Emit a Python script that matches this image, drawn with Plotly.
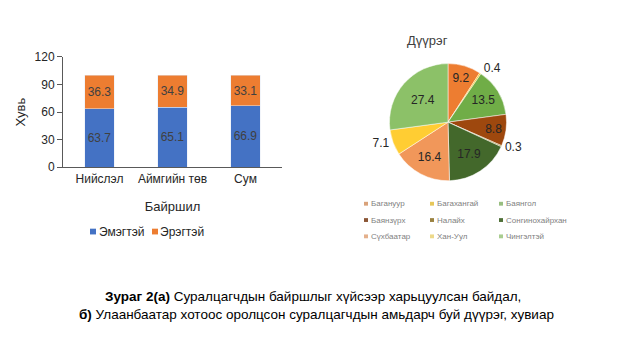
import plotly.graph_objects as go

W, H = 639, 347

# ---- data ----
locations = ["Нийслэл", "Аймгийн төв", "Сум"]
female = [63.7, 65.1, 66.9]
male = [36.3, 34.9, 33.1]
series_names = ["Эмэгтэй", "Эрэгтэй"]
y_ticks = [0, 30, 60, 90, 120]

districts = ["Багануур", "Багахангай", "Баянгол", "Баянзүрх", "Налайх",
             "Сонгинохайрхан", "Сүхбаатар", "Хан-Уул", "Чингэлтэй"]
district_share = [9.2, 0.4, 13.5, 8.8, 0.3, 17.9, 16.4, 7.1, 27.4]

# ---- styles ----
bar_colors = ["#4472C4", "#ED7D31"]
pie_colors = ["#ED7D31", "#FFC000", "#70AD47", "#9E480E", "#997300",
              "#43682B", "#F1975A", "#FFCD33", "#8CC168"]
legend_colors = ["#D9A27A", "#E6C75A", "#98BE80", "#8A5535", "#9A8240",
                 "#4F7038", "#E4B08C", "#EDD98A", "#A9CD90"]
pie_textpos = ["inside", "outside", "inside", "inside", "outside",
               "inside", "inside", "outside", "inside"]

def px(x):
    return x / W

def py(y):
    return 1 - y / H

fig = go.Figure()
for name, vals, col in zip(series_names, [female, male], bar_colors):
    fig.add_trace(go.Bar(
        x=locations, y=vals, name=name, marker_color=col,
        text=[f"{v:.1f}" for v in vals], textposition="inside",
        insidetextanchor="middle", textangle=0,
        textfont=dict(size=12, color="#404040"),
        showlegend=False, cliponaxis=False,
    ))

fig.add_trace(go.Pie(
    labels=districts, values=district_share, sort=False,
    direction="clockwise", rotation=0,
    marker=dict(colors=pie_colors, line=dict(color="white", width=0.5)),
    texttemplate="%{value}", textposition=pie_textpos,
    textfont=dict(size=12, color="#262626"),
    insidetextorientation="horizontal",
    domain=dict(x=[px(387), px(509)], y=[py(181), py(59)]),
    showlegend=False, hoverinfo="label+value",
))

fig.update_layout(
    width=W, height=H, margin=dict(l=0, r=0, t=0, b=0),
    paper_bgcolor="white", plot_bgcolor="white",
    barmode="stack", bargap=0.6,
    font=dict(family="Liberation Sans, Arial", color="#262626"),
    uniformtext=dict(minsize=12, mode="show"),
    xaxis=dict(domain=[px(63), px(282)], showline=True, linecolor="#595959",
               linewidth=1, ticks="", tickfont=dict(size=12, color="#262626"),
               title=dict(text="Байршил", font=dict(size=13, color="#262626"), standoff=17)),
    yaxis=dict(domain=[py(167), py(52)], range=[0, 120], tickvals=y_ticks,
               showline=True, linecolor="#595959", linewidth=1,
               ticks="outside", ticklen=5, tickcolor="#595959",
               showgrid=False, zeroline=False,
               tickfont=dict(size=12, color="#262626"),
               title=dict(text="Хувь", font=dict(size=13, color="#262626"), standoff=6)),
)

annotations = []
shapes = []

# bar legend
bar_leg = [(90, 97), (152, 158)]
for (sx, tx), name, col in zip(bar_leg, series_names, bar_colors):
    shapes.append(dict(type="rect", xref="paper", yref="paper",
                       x0=px(sx), x1=px(sx + 6), y0=py(237), y1=py(231),
                       fillcolor=col, line=dict(width=0)))
    annotations.append(dict(text=name, x=px(tx), y=py(234), xref="paper", yref="paper",
                            xanchor="left", yanchor="middle", showarrow=False,
                            font=dict(size=12, color="#262626")))

# pie title
annotations.append(dict(text="Дүүрэг", x=px(427), y=py(35), xref="paper", yref="paper",
                        xanchor="center", yanchor="middle", showarrow=False,
                        font=dict(size=13, color="#404040")))

# pie legend (3x3 grid)
cols_x = [364, 430, 499]
rows_y = [205, 222, 239]
for i, (name, col) in enumerate(zip(districts, legend_colors)):
    r, c = divmod(i, 3)
    sx, sy = cols_x[c], rows_y[r]
    shapes.append(dict(type="rect", xref="paper", yref="paper",
                       x0=px(sx), x1=px(sx + 4), y0=py(sy + 2), y1=py(sy - 2),
                       fillcolor=col, line=dict(width=0)))
    annotations.append(dict(text=name, x=px(sx + 5), y=py(sy), xref="paper", yref="paper",
                            xanchor="left", yanchor="middle", showarrow=False,
                            font=dict(size=8, color="#7F7F7F")))

# caption
annotations.append(dict(text="<b>Зураг 2(а)</b> Суралцагчдын байршлыг хүйсээр харьцуулсан байдал,",
                        x=px(313), y=py(302), xref="paper", yref="paper",
                        xanchor="center", yanchor="middle", showarrow=False,
                        font=dict(size=13.5, color="black")))
annotations.append(dict(text="<b>б)</b> Улаанбаатар хотоос оролцсон суралцагчдын амьдарч буй дүүрэг, хувиар",
                        x=px(316), y=py(320), xref="paper", yref="paper",
                        xanchor="center", yanchor="middle", showarrow=False,
                        font=dict(size=13.5, color="black")))

fig.update_layout(annotations=annotations, shapes=shapes)
fig.write_html("out.html")
